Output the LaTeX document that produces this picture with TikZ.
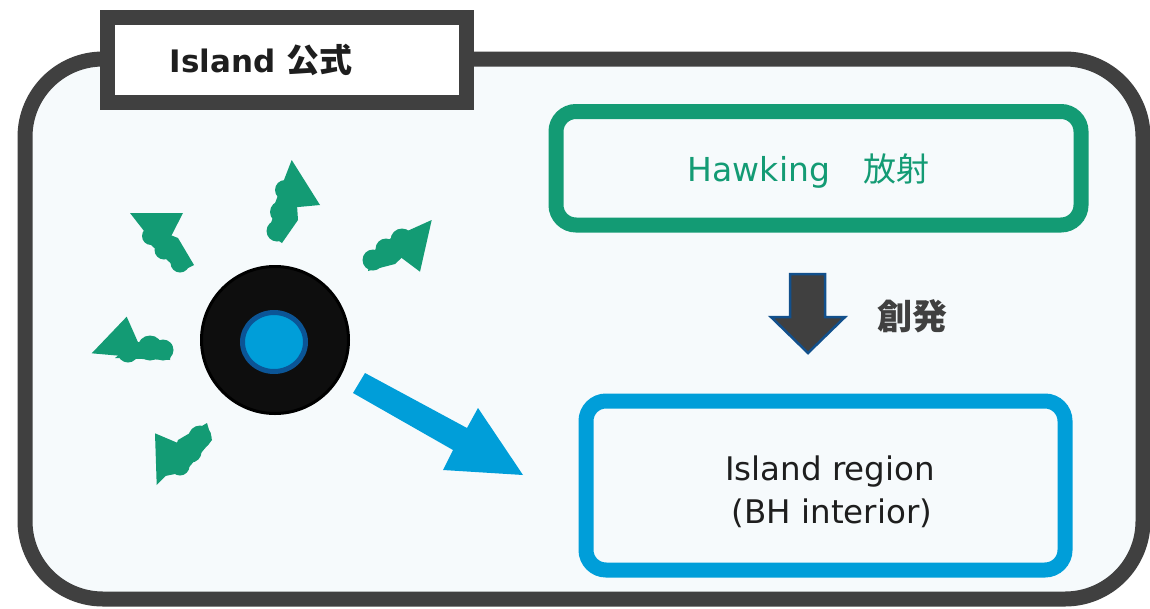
\documentclass[tikz,border=0pt]{standalone}
\usepackage{fontspec}
\usetikzlibrary{calc,shapes.geometric}
\setmainfont{DejaVu Sans}
\newfontfamily\cjk{Noto Sans CJK JP}
\definecolor{framegray}{HTML}{404040}
\definecolor{bgpale}{HTML}{F6FAFC}
\definecolor{hgreen}{HTML}{139B74}
\definecolor{iblue}{HTML}{009ED9}
\definecolor{navyedge}{HTML}{12508C}
\definecolor{coreedge}{HTML}{0B5596}
\definecolor{holeblack}{HTML}{0E0E0E}
\definecolor{inktext}{HTML}{1E1E1E}
\tikzset{
  frame/.style={rectangle, draw=framegray, line width=15pt, fill=bgpale,
    rounded corners=78pt, minimum width=1118pt, minimum height=540pt, inner sep=0pt},
  titlebox/.style={rectangle, draw=framegray, line width=15pt, fill=white,
    minimum width=359pt, minimum height=85pt, inner sep=0pt},
  greenbox/.style={rectangle, draw=hgreen, line width=15pt, rounded corners=20pt,
    minimum width=525pt, minimum height=113.5pt, inner sep=0pt},
  bluebox/.style={rectangle, draw=iblue, line width=15pt, rounded corners=20pt,
    minimum width=479pt, minimum height=169pt, inner sep=0pt},
  label/.style={inner sep=0pt, anchor=base},
  wave/.style={fill=hgreen},
}
\begin{document}
\begin{tikzpicture}[x=1pt,y=-1pt]
\useasboundingbox (0,0) rectangle (1150,608);
\fill[white] (0,0) rectangle (1150,608);

% outer frame and title tab
\node[frame] (frame) at (584,329) {};
\node[titlebox] (tab) at (287,60) {};
\node[label, text=inktext, font=\fontsize{31pt}{37pt}\selectfont\bfseries] (tabtext) at (261,72)
  {Island {\cjk\fontsize{33pt}{39pt}\selectfont 公式}};

% Hawking radiation box
\node[greenbox] (hawk) at (818.5,168.25) {};
\node[label, text=hgreen, font=\fontsize{33pt}{39pt}\selectfont] (hawktext) at (808.5,181.5) {Hawking{\cjk 　放射}};

% island region box
\node[bluebox] (island) at (825.5,485.5) {};
\node[label, text=inktext, font=\fontsize{32.5pt}{38pt}\selectfont] (isl1) at (830,480) {Island region};
\node[label, text=inktext, font=\fontsize{32.5pt}{38pt}\selectfont] (isl2) at (832,523) {(BH interior)};

% emergence arrow between the boxes
\coordinate (emtop) at (807.5,274);
\draw[draw=navyedge, fill=framegray, line width=2.5pt, line join=miter]
  ($(emtop)+(-17.5,0)$) -- ++(35,0) -- ++(0,43) -- ++(20,0) -- (808,353)
  -- (771,317) -- ++(19,0) -- cycle;
\node[label, anchor=base west, text=framegray, font=\fontsize{35pt}{41pt}\selectfont\cjk\bfseries] (emerge) at (877,329) {創発};

% black hole with its blue core
\node[circle, draw=black, line width=3pt, fill=holeblack, minimum size=147pt, inner sep=0pt] (bh) at (275,340) {};
\node[ellipse, draw=coreedge, line width=5pt, fill=iblue, minimum width=63pt, minimum height=59pt, inner sep=0pt] (core) at (274,342) {};

% thick arrow pointing at the island
\fill[iblue] (365,373) -- (467,428) -- (478,408) -- (523,475) -- (443,470) -- (453,450) -- (353,393) -- cycle;

% Hawking quanta escaping the hole
\fill[wave] (130,213) -- (183,213) -- (162,254) -- cycle;
\fill[wave] (158,230) -- (178,238) -- (194,265) -- (180,272) -- (150,244) -- cycle;
\fill[wave] (151,236) circle (9) (164,250) circle (9.5) (180,263) circle (9.5);

\fill[wave] (291.7,160) -- (320,205) -- (272.6,209.4) -- cycle;
\fill[wave] (286,184) -- (297,205) -- (298,220) -- (282,243) -- (267,233) -- cycle;
\fill[wave] (285,190) circle (10) (281,212) circle (11) (277,231) circle (10.5);

\fill[wave] (431.7,220) -- (420,271.7) -- (381.3,242.7) -- cycle;
\fill[wave] (372,252) -- (400,232) -- (410,250) -- (395,264) -- (368,271) -- cycle;
\fill[wave] (402,240) circle (11.5) (386,249) circle (10.5) (373,260) circle (10.5);

\fill[wave] (91.7,353.3) -- (126.7,316.7) -- (145,358) -- cycle;
\fill[wave] (135,342) -- (172,344) -- (170,360) -- (115,358) -- cycle;
\fill[wave] (150,348) circle (12.5) (128,352) circle (10.5) (163,350) circle (10.5);

\fill[wave] (156.7,485) -- (155,433.3) -- (192,449) -- cycle;
\fill[wave] (178,440) -- (207,423) -- (212,440) -- (185,472) -- (165,476) -- cycle;
\fill[wave] (200,437) circle (11.5) (191,452) circle (10.5) (180,466) circle (9.5);
\end{tikzpicture}
\end{document}
